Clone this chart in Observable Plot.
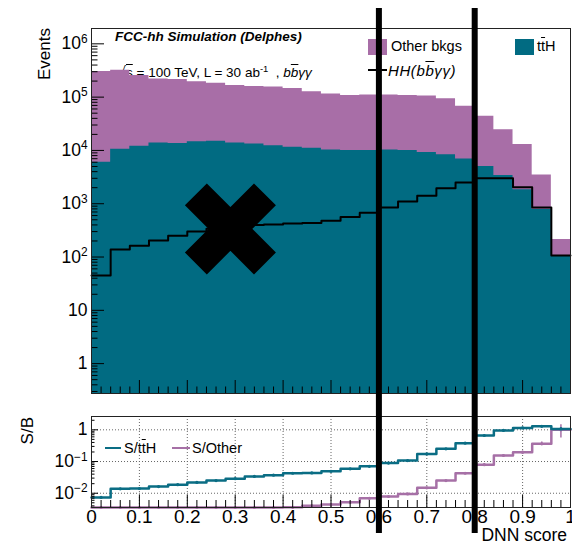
<!DOCTYPE html>
<html><head><meta charset="utf-8">
<script src="https://cdn.jsdelivr.net/npm/d3@7"></script>
<script src="https://cdn.jsdelivr.net/npm/@observablehq/plot@0.6"></script>
<style>
html,body{margin:0;padding:0;background:#fff;}
#wrap{position:relative;width:572px;height:546px;overflow:hidden;font-family:"Liberation Sans",Arial,Helvetica,sans-serif;color:#000;}
.lbl{position:absolute;white-space:nowrap;z-index:0;line-height:1;}
.ov{text-decoration:overline;}
.it{font-style:italic;}
.sw{position:absolute;z-index:0;}
.rad{font-family:"DejaVu Sans",sans-serif;font-size:1.05em;}
</style></head><body>
<div id="wrap">
  <div class="lbl" style="left:36px;top:148px;width:120px;text-align:right;font-size:17px;transform:rotate(-90deg);transform-origin:0 0;">Events</div>
  <div class="lbl" style="left:19px;top:537px;width:120px;text-align:right;font-size:17px;transform:rotate(-90deg);transform-origin:0 0;">S/B</div>
  <div class="lbl" style="left:115px;top:30px;font-size:13.5px;font-weight:bold;font-style:italic;">FCC-hh Simulation (Delphes)</div>
  <div class="lbl" style="left:117px;top:64px;font-size:13.5px;"><span class="rad">√</span><span class="ov">s</span> = 100 TeV, L = 30 ab<sup style="font-size:0.7em;vertical-align:0.5em">-1</sup> &nbsp;, <span class="it">b<span class="ov">b</span>γγ</span></div>
  <div class="sw" style="left:368px;top:39px;width:19px;height:16px;background:#a86ea7;"></div>
  <div class="lbl" style="left:391px;top:39px;font-size:14.5px;">Other bkgs</div>
  <div class="sw" style="left:515px;top:39px;width:19px;height:16px;background:#016b82;"></div>
  <div class="lbl" style="left:537px;top:39px;font-size:14.5px;">t<span class="ov">t</span>H</div>
  <div class="sw" style="left:368px;top:69px;width:19px;height:2px;background:#000;"></div>
  <div class="lbl it" style="left:388px;top:63px;font-size:15px;letter-spacing:0.6px;">HH(b<span class="ov">b</span>γγ)</div>
  <div class="sw" style="left:105px;top:446.5px;width:16px;height:2.5px;background:#0a6d84;"></div>
  <div class="lbl" style="left:124px;top:441px;font-size:14.5px;">S/t<span class="ov">t</span>H</div>
  <div class="sw" style="left:172px;top:446.5px;width:18px;height:2.5px;background:#a670a6;"></div>
  <div class="lbl" style="left:192px;top:441px;font-size:14.5px;">S/Other</div>
  <div class="lbl" style="right:5px;top:527px;font-size:17.5px;">DNN score</div>
</div>
<script>
// ---------- data ----------
const binEdges = [0,0.04,0.08,0.12,0.16,0.2,0.24,0.28,0.32,0.36,0.4,0.44,0.48,0.52,0.56,0.6,0.64,0.68,0.72,0.76,0.8,0.84,0.88,0.92,0.96,1.0];
const ttH = [6030,10500,12000,13800,13500,14500,14800,13800,13200,12300,11500,11000,10200,10000,10000,10200,10000,9120,8320,6920,5010,3390,1820,776,105];
const otherBkgs = [296000,309500,242000,205000,200500,180500,167000,152000,145000,142500,133000,115000,104800,97000,99600,99400,97000,95600,85000,60700,38700,21100,11100,2690,109];
const hhSignal = [45,138,162,204,251,302,339,372,398,407,427,437,479,562,676,851,1100,1410,1950,2510,3020,3020,2040,851,107];
const sOverTtH = [0.0074,0.0138,0.0141,0.0162,0.0186,0.0219,0.0251,0.0288,0.0339,0.0372,0.0427,0.0437,0.049,0.0589,0.0708,0.0891,0.107,0.174,0.251,0.380,0.661,0.955,1.15,1.29,1.07];
const sOverTtHErr = [0,0,0,0,0,0,0,0,0,0,0,0,0,0,0,0,0,0,0,0,0.01,0.03,0.05,0.07,0.1];
const sOverOther = [0.00015,0.00045,0.00067,0.001,0.0013,0.0017,0.002,0.0024,0.0027,0.0029,0.0036,0.0040,0.0044,0.0052,0.0069,0.0079,0.0095,0.0148,0.0251,0.0427,0.0794,0.155,0.195,0.363,1.0];
const sOverOtherErr = [0,0,0,0,0,0,0,0,0,0,0,0,0,0,0,0,0,0,0,0,0.004,0.01,0.02,0.05,0.45];
const cutValues = [0.6, 0.8];
const crossMarker = [{x: 0.29, y: 337}];
const topYTicks = [1,10,100,1000,10000,100000,1000000];
const topYTickLabels = ["1","10","10^2","10^3","10^4","10^5","10^6"];
const ratioYTicks = [1,0.1,0.01];
const ratioYTickLabels = ["1","10^−1","10^−2"];
const xTicks = [0,0.1,0.2,0.3,0.4,0.5,0.6,0.7,0.8,0.9,1];
const xTickLabels = ["0","0.1","0.2","0.3","0.4","0.5","0.6","0.7","0.8","0.9","1"];
const xMinorTicks = [0.02,0.04,0.06,0.08,0.12,0.14,0.16,0.18,0.22,0.24,0.26,0.28,0.32,0.34,0.36,0.38,0.42,0.44,0.46,0.48,0.52,0.54,0.56,0.58,0.62,0.64,0.66,0.68,0.72,0.74,0.76,0.78,0.82,0.84,0.86,0.88,0.92,0.94,0.96,0.98];
const ratioGridX = [0.1,0.2,0.3,0.4,0.5,0.6,0.7,0.8,0.9];

// ---------- style ----------
const PURPLE = "#a86ea7", TEAL = "#016b82";
const TEAL_L = "#0a6d84", PURPLE_L = "#a670a6";
const FONT = '"Liberation Sans", Arial, Helvetica, sans-serif';
const W = 572, ML = 91, MR = 2;
const plotW = W - ML - MR;
const topYDomain = [0.275, 1.94e6];
const ratioYDomain = [0.00355, 2.63];

function minorLog(dom) {
  const out = [];
  for (let k = -4; k <= 7; k++) for (let m = 2; m <= 9; m++) {
    const v = m * Math.pow(10, k);
    if (v >= dom[0] && v <= dom[1]) out.push(v);
  }
  return out;
}

const bins = ttH.map((t, i) => ({
  lo: binEdges[i], hi: binEdges[i + 1], mid: (binEdges[i] + binEdges[i + 1]) / 2,
  tth: t, total: t + otherBkgs[i], hh: hhSignal[i],
  rt: sOverTtH[i], rtErr: sOverTtHErr[i], ro: sOverOther[i], roErr: sOverOtherErr[i]
}));
const steps = binEdges.map((e, i) => ({...bins[Math.min(i, bins.length - 1)], edge: e}));

function supify(svg) {
  d3.select(svg).selectAll("text").each(function () {
    const m = this.textContent.match(/^10\^(.+)$/);
    if (!m) return;
    const t = d3.select(this);
    t.text(null);
    t.append("tspan").text("10");
    t.append("tspan").attr("dy", "-0.55em").attr("font-size", "0.68em").text(m[1]);
  });
}

const TH = 405, TMT = 28, TMB = 12;
const topH = TH - TMT - TMB;
const topPlot = Plot.plot({
  width: W, height: TH, marginLeft: ML, marginRight: MR, marginTop: TMT, marginBottom: TMB,
  style: {background: "transparent", fontFamily: FONT, overflow: "visible"},
  x: {domain: [0, 1], axis: null},
  y: {type: "log", domain: topYDomain, axis: null},
  marks: [
    Plot.area(steps, {x1: "edge", y1: topYDomain[0], y2: "total", curve: "step-after", fill: PURPLE}),
    Plot.area(steps, {x1: "edge", y1: topYDomain[0], y2: "tth", curve: "step-after", fill: TEAL}),
    Plot.line(steps, {x: "edge", y: "hh", curve: "step-after", stroke: "black", strokeWidth: 2}),
    Plot.tickY(topYTicks, {y: d => d, insetRight: plotW - 13, stroke: "black"}),
    Plot.tickY(minorLog(topYDomain), {y: d => d, insetRight: plotW - 6.5, stroke: "black"}),
    Plot.tickX(xTicks, {x: d => d, insetTop: topH - 13, stroke: "black"}),
    Plot.tickX(xMinorTicks, {x: d => d, insetTop: topH - 6.5, stroke: "black"}),
    Plot.frame({stroke: "#222"}),
    Plot.text(topYTicks, {y: d => d, text: (d, i) => topYTickLabels[i], frameAnchor: "left", textAnchor: "end", dx: -4, fontSize: 17.5}),
    Plot.dot(crossMarker, {x: "x", y: "y", symbol: "times", r: 31.5, stroke: "black", strokeWidth: 31, strokeLinecap: "butt"}),
    Plot.ruleX(cutValues, {x: d => d, stroke: "black", strokeWidth: 6, insetTop: -20, insetBottom: -TMB})
  ]
});

const BH = 141, BMT = 11, BMB = 39;
const botH = BH - BMT - BMB;
const botPlot = Plot.plot({
  width: W, height: BH, marginLeft: ML, marginRight: MR, marginTop: BMT, marginBottom: BMB,
  style: {background: "transparent", fontFamily: FONT, overflow: "visible"},
  x: {domain: [0, 1], axis: null},
  y: {type: "log", domain: ratioYDomain, axis: null, clamp: true},
  marks: [
    Plot.ruleX(ratioGridX, {x: d => d, stroke: "#666", strokeWidth: 1, strokeDasharray: "1,2"}),
    Plot.ruleY(ratioYTicks, {y: d => d, stroke: "#666", strokeWidth: 1, strokeDasharray: "1,2"}),
    Plot.line(steps, {x: "edge", y: "ro", curve: "step-after", stroke: PURPLE_L, strokeWidth: 2.5}),
    Plot.ruleX(bins.filter(d => d.roErr > 0), {x: "mid", y1: d => d.ro - d.roErr, y2: d => d.ro + d.roErr, stroke: PURPLE_L, strokeWidth: 1.5}),
    Plot.dot(bins, {x: "mid", y: "ro", r: 1.6, fill: PURPLE_L}),
    Plot.line(steps, {x: "edge", y: "rt", curve: "step-after", stroke: TEAL_L, strokeWidth: 2.5}),
    Plot.ruleX(bins.filter(d => d.rtErr > 0), {x: "mid", y1: d => d.rt - d.rtErr, y2: d => d.rt + d.rtErr, stroke: TEAL_L, strokeWidth: 1.5}),
    Plot.dot(bins, {x: "mid", y: "rt", r: 1.6, fill: TEAL_L}),
    Plot.tickY(ratioYTicks, {y: d => d, insetRight: plotW - 7, stroke: "black"}),
    Plot.tickY(minorLog(ratioYDomain), {y: d => d, insetRight: plotW - 3.5, stroke: "black"}),
    Plot.tickX(xTicks, {x: d => d, insetTop: botH - 12, stroke: "black"}),
    Plot.tickX(xMinorTicks, {x: d => d, insetTop: botH - 7, stroke: "black"}),
    Plot.frame({stroke: "#222"}),
    Plot.text(ratioYTicks, {y: d => d, text: (d, i) => ratioYTickLabels[i], frameAnchor: "left", textAnchor: "end", dx: -4, fontSize: 17.5}),
    Plot.text(xTicks, {x: d => d, text: (d, i) => xTickLabels[i], frameAnchor: "bottom", dy: 15, fontSize: 19}),
    Plot.ruleX(cutValues, {x: d => d, stroke: "black", strokeWidth: 6, insetTop: -BMT, insetBottom: -26})
  ]
});

supify(topPlot); supify(botPlot);
const wrap = document.getElementById("wrap");
for (const [svg, top] of [[topPlot, 0], [botPlot, TH]]) {
  svg.style.position = "absolute";
  svg.style.left = "0px";
  svg.style.top = top + "px";
  svg.style.zIndex = "1";
  svg.style.background = "transparent";
  wrap.appendChild(svg);
}
</script>
</body></html>
